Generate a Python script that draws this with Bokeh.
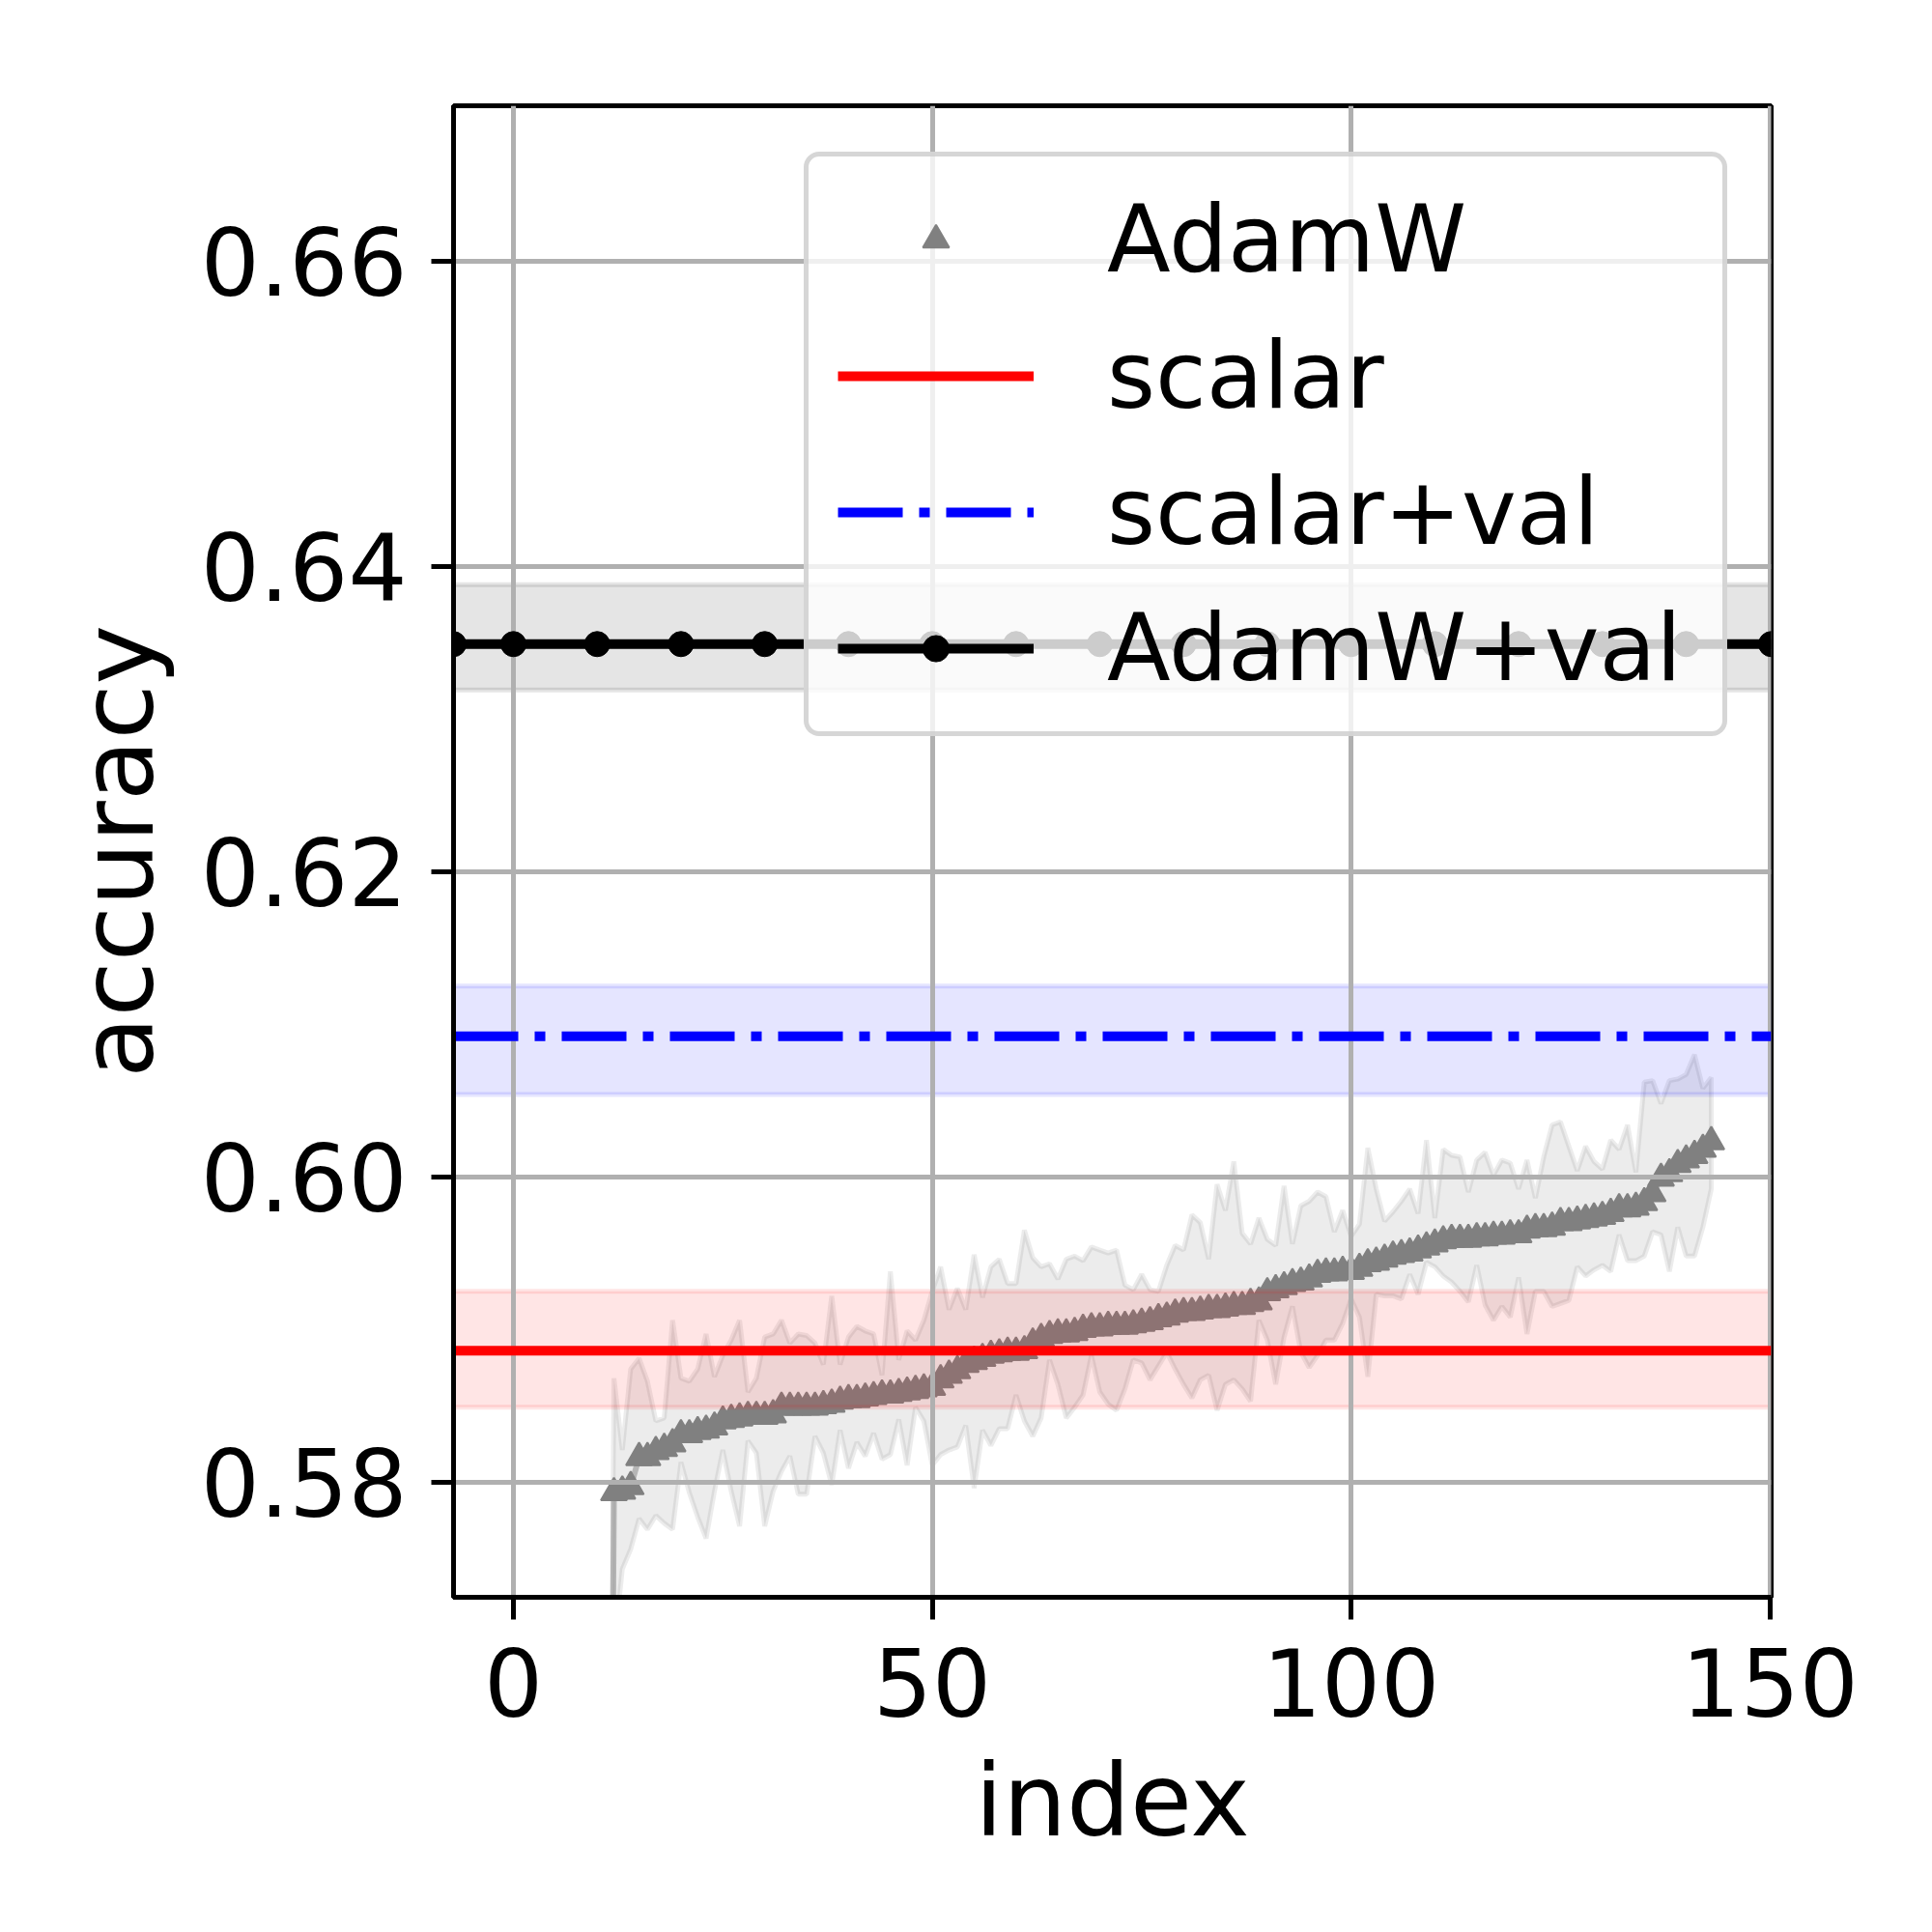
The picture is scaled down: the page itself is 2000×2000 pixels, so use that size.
from bokeh.plotting import figure
from bokeh.models import Range1d, FixedTicker, PrintfTickFormatter, Legend, LegendItem
from bokeh.embed import file_html
from bokeh.resources import INLINE

# ---------------- data ----------------
idx = list(range(11, 144))

adamw_mean = [
    0.5000,
    0.5793, 0.5794, 0.5797, 0.5816, 0.5816, 0.5820, 0.5822, 0.5825, 0.5831, 0.5831,
    0.5833, 0.5834, 0.5836, 0.5840, 0.5841, 0.5842, 0.5843, 0.5843, 0.5843, 0.5844,
    0.5849, 0.5849, 0.5849, 0.5849, 0.5849, 0.5850, 0.5851, 0.5853, 0.5854, 0.5854,
    0.5855, 0.5856, 0.5857, 0.5857, 0.5858, 0.5859, 0.5860, 0.5861, 0.5862, 0.5867,
    0.5870, 0.5873, 0.5877, 0.5879, 0.5881, 0.5883, 0.5884, 0.5885, 0.5885, 0.5886,
    0.5891, 0.5894, 0.5896, 0.5897, 0.5897, 0.5898, 0.5900, 0.5901, 0.5901, 0.5902,
    0.5902, 0.5902, 0.5903, 0.5904, 0.5905, 0.5907, 0.5908, 0.5910, 0.5911, 0.5911,
    0.5912, 0.5913, 0.5913, 0.5914, 0.5915, 0.5915, 0.5917, 0.5918, 0.5924, 0.5926,
    0.5928, 0.5930, 0.5931, 0.5933, 0.5936, 0.5937, 0.5937, 0.5938, 0.5938, 0.5940,
    0.5943, 0.5944, 0.5946, 0.5948, 0.5949, 0.5950, 0.5952, 0.5954, 0.5956, 0.5958,
    0.5959, 0.5959, 0.5959, 0.5960, 0.5960, 0.5961, 0.5961, 0.5962, 0.5962, 0.5965,
    0.5966, 0.5966, 0.5967, 0.5970, 0.5970, 0.5971, 0.5972, 0.5973, 0.5974, 0.5976,
    0.5979, 0.5979, 0.5980, 0.5983, 0.5989, 0.5999, 0.6002, 0.6008, 0.6011, 0.6014,
    0.6018, 0.6023,
]

adamw_upper = [
    0.5100,
    0.5868, 0.5821, 0.5874, 0.5881, 0.5866, 0.5840, 0.5842, 0.5906, 0.5868, 0.5866,
    0.5874, 0.5897, 0.5869, 0.5883, 0.5893, 0.5906, 0.5859, 0.5868, 0.5895, 0.5897,
    0.5906, 0.5891, 0.5897, 0.5896, 0.5891, 0.5877, 0.5922, 0.5877, 0.5895, 0.5902,
    0.5899, 0.5897, 0.5870, 0.5938, 0.5880, 0.5899, 0.5893, 0.5906, 0.5925, 0.5941,
    0.5913, 0.5927, 0.5913, 0.5949, 0.5921, 0.5941, 0.5946, 0.5930, 0.5930, 0.5965,
    0.5947, 0.5941, 0.5943, 0.5933, 0.5946, 0.5948, 0.5945, 0.5954, 0.5952, 0.5950,
    0.5952, 0.5929, 0.5926, 0.5936, 0.5926, 0.5925, 0.5942, 0.5955, 0.5952, 0.5975,
    0.5970, 0.5946, 0.5995, 0.5978, 0.6010, 0.5963, 0.5956, 0.5973, 0.5959, 0.5955,
    0.5994, 0.5956, 0.5981, 0.5984, 0.5990, 0.5987, 0.5964, 0.5978, 0.5961, 0.5969,
    0.6019, 0.5992, 0.5971, 0.5977, 0.5984, 0.5992, 0.5976, 0.6024, 0.5973, 0.6018,
    0.6014, 0.6013, 0.5990, 0.6011, 0.6016, 0.6001, 0.6011, 0.6009, 0.5992, 0.6011,
    0.5986, 0.6013, 0.6034, 0.6036, 0.6020, 0.6004, 0.6020, 0.6010, 0.6005, 0.6024,
    0.6018, 0.6034, 0.6003, 0.6062, 0.6063, 0.6048, 0.6063, 0.6064, 0.6067, 0.6080,
    0.6058, 0.6065,
]

adamw_lower = [
    0.4900,
    0.5690, 0.5743, 0.5756, 0.5776, 0.5769, 0.5778, 0.5773, 0.5769, 0.5813, 0.5793,
    0.5777, 0.5763, 0.5794, 0.5821, 0.5794, 0.5771, 0.5827, 0.5819, 0.5771, 0.5794,
    0.5807, 0.5817, 0.5792, 0.5792, 0.5830, 0.5819, 0.5798, 0.5834, 0.5809, 0.5826,
    0.5817, 0.5832, 0.5815, 0.5818, 0.5841, 0.5811, 0.5849, 0.5840, 0.5811, 0.5818,
    0.5821, 0.5823, 0.5837, 0.5796, 0.5834, 0.5824, 0.5835, 0.5835, 0.5857, 0.5840,
    0.5830, 0.5842, 0.5880, 0.5864, 0.5842, 0.5849, 0.5857, 0.5883, 0.5859, 0.5851,
    0.5847, 0.5861, 0.5880, 0.5878, 0.5867, 0.5876, 0.5885, 0.5874, 0.5864, 0.5855,
    0.5867, 0.5870, 0.5847, 0.5864, 0.5867, 0.5861, 0.5853, 0.5906, 0.5893, 0.5864,
    0.5895, 0.5915, 0.5885, 0.5875, 0.5883, 0.5893, 0.5893, 0.5904, 0.5920, 0.5908,
    0.5869, 0.5923, 0.5922, 0.5922, 0.5920, 0.5936, 0.5923, 0.5944, 0.5941, 0.5935,
    0.5931, 0.5925, 0.5918, 0.5942, 0.5916, 0.5906, 0.5915, 0.5908, 0.5934, 0.5897,
    0.5925, 0.5925, 0.5915, 0.5917, 0.5919, 0.5941, 0.5935, 0.5939, 0.5942, 0.5938,
    0.5962, 0.5945, 0.5945, 0.5948, 0.5964, 0.5962, 0.5938, 0.5967, 0.5948, 0.5948,
    0.5967, 0.5992,
]

span_x = [-7.15, 150.15]

scalar_mean = [0.5886, 0.5886]
scalar_lo = [0.5849, 0.5849]
scalar_hi = [0.5925, 0.5925]

scalar_val_mean = [0.6092, 0.6092]
scalar_val_lo = [0.6054, 0.6054]
scalar_val_hi = [0.6125, 0.6125]

adamw_val_x = [-7.15, 0, 10, 20, 30, 40, 50, 60, 70, 80, 90, 100, 110, 120, 130, 140, 150.15]
adamw_val_mean = [0.6349] * len(adamw_val_x)
adamw_val_lo = [0.6319, 0.6319]
adamw_val_hi = [0.6388, 0.6388]

x_ticks = [0, 50, 100, 150]
y_ticks = [0.58, 0.60, 0.62, 0.64, 0.66]

FONT = "DejaVu Sans"
FS = "96px"
LFS = "104px"

# ---------------- figure ----------------
p = figure(
    frame_width=1364, frame_height=1544,
    x_range=Range1d(-7.15, 150.15), y_range=Range1d(0.57245, 0.67017),
    output_backend="svg", toolbar_location=None,
    min_border_left=469, min_border_right=151,
    min_border_top=109, min_border_bottom=331,
)
p.background_fill_color = "white"
p.border_fill_color = "white"
p.outline_line_color = "black"
p.outline_line_width = 5
p.outline_line_alpha = 1.0


def band(xs, hi, lo, color, alpha):
    return p.patch(
        x=list(xs) + list(xs)[::-1], y=list(hi) + list(lo)[::-1],
        fill_color=color, fill_alpha=alpha,
        line_color=color, line_alpha=alpha, line_width=5, level="image",
    )


# AdamW band, mean trace and markers (below grid)
band(idx, adamw_upper, adamw_lower, "gray", 0.15)
p.line(idx, adamw_mean, line_color="gray", line_alpha=0.5, line_width=6, level="image")
tri = p.scatter(idx, adamw_mean, marker="triangle", size=27,
                fill_color="gray", line_color="gray", line_width=2, level="image")

# horizontal bands
band(span_x, scalar_hi, scalar_lo, "red", 0.1)
band(span_x, scalar_val_hi, scalar_val_lo, "blue", 0.1)
band(span_x, adamw_val_hi, adamw_val_lo, "black", 0.1)

# lines (above grid)
red = p.line(span_x, scalar_mean, line_color="red", line_width=10)
blue = p.line(span_x, scalar_val_mean, line_color="blue", line_width=10,
              line_dash="67 17 11 17")
blk = p.line(adamw_val_x, adamw_val_mean, line_color="black", line_width=10)
blk_pts = p.scatter(adamw_val_x, adamw_val_mean, marker="circle", size=26,
                    fill_color="black", line_color="black")

# grid
for g in (p.xgrid, p.ygrid):
    g.grid_line_color = "#b0b0b0"
    g.grid_line_width = 5
p.xgrid.ticker = FixedTicker(ticks=x_ticks)
p.ygrid.ticker = FixedTicker(ticks=y_ticks)

# axes
p.xaxis.ticker = FixedTicker(ticks=x_ticks)
p.yaxis.ticker = FixedTicker(ticks=y_ticks)
p.yaxis.formatter = PrintfTickFormatter(format="%.2f")
p.xaxis.axis_label = "index"
p.yaxis.axis_label = "accuracy"
for ax in (p.xaxis, p.yaxis):
    ax.axis_line_color = "black"
    ax.axis_line_width = 5
    ax.major_tick_line_color = "black"
    ax.major_tick_line_width = 5
    ax.major_tick_out = 23
    ax.major_tick_in = 0
    ax.minor_tick_line_color = None
    ax.major_label_text_font = FONT
    ax.major_label_text_font_size = FS
    ax.major_label_text_color = "black"
    ax.axis_label_text_font = FONT
    ax.axis_label_text_font_size = LFS
    ax.axis_label_text_font_style = "normal"
    ax.axis_label_text_color = "black"
p.xaxis.major_label_standoff = 29
p.yaxis.major_label_standoff = 25
p.xaxis.axis_label_standoff = 23
p.yaxis.axis_label_standoff = 22

# legend
legend = Legend(
    items=[
        LegendItem(label="AdamW", renderers=[tri]),
        LegendItem(label="scalar", renderers=[red]),
        LegendItem(label="scalar+val", renderers=[blue]),
        LegendItem(label="AdamW+val", renderers=[blk, blk_pts]),
    ],
    location=(363, 891),
)
legend.label_text_font = FONT
legend.label_text_font_size = FS
legend.label_text_color = "black"
legend.glyph_width = 203
legend.glyph_height = 68
legend.label_standoff = 76
legend.label_height = 112
legend.label_width = 607
legend.padding = 30
legend.spacing = 29
legend.margin = 0
legend.background_fill_color = "white"
legend.background_fill_alpha = 0.8
legend.border_line_color = "#cccccc"
legend.border_line_width = 5
legend.border_line_alpha = 0.8
if "border_radius" in Legend.properties():
    legend.border_radius = 16
p.add_layout(legend)

open("out.html", "w").write(file_html(p, INLINE))
